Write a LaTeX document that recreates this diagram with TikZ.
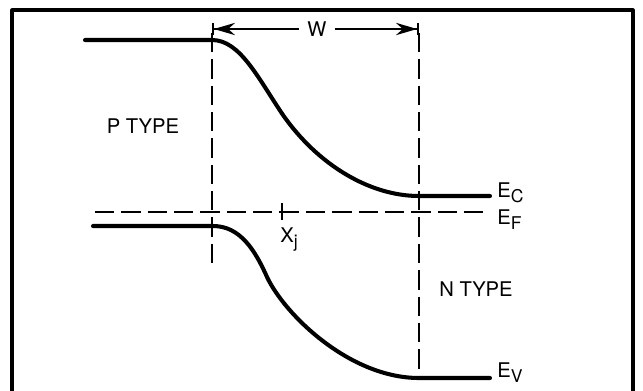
\documentclass[tikz,border=0pt]{standalone}
\usepackage{fontspec}
\setmainfont{TeX Gyre Heros}
\usetikzlibrary{arrows.meta}
\newcommand{\lowsub}[1]{\raisebox{-0.5ex}{\fontsize{10}{12}\selectfont #1}}

\begin{document}
\begin{tikzpicture}[
                >=Stealth,
                x=0.02cm,
                y=-0.02cm,
                band/.style={line width=2.3pt, line cap=round},
                guide/.style={line width=1.1pt, dash pattern=on 11pt off 4pt},
                frame/.style={line width=1.8pt, line join=round},
                dim/.style={line width=1.1pt,
                    {Bar[width=7pt]Stealth[length=12pt,width=7pt]}-{Stealth[length=12pt,width=7pt]Bar[width=7pt]}},
                lbl/.style={font=\fontsize{11.5}{13}\selectfont, inner sep=0pt}
            ]

            \useasboundingbox (0,0) rectangle (643,390);

            % outline
            \draw[frame] (12,392) -- (12,10) -- (633,10) -- (633,392);

            % band edges
            \coordinate (cStart) at (85,40);
            \coordinate (cLeft) at (212,40);
            \coordinate (cMid) at (283,115);
            \coordinate (cRight) at (419,196);
            \coordinate (cEnd) at (490,196);
            \coordinate (vStart) at (93,226);
            \coordinate (vLeft) at (213,226);
            \coordinate (vMid) at (267,277);
            \coordinate (vRight) at (419,378);
            \coordinate (vEnd) at (490,378);

            \draw[band] (cStart) -- (cLeft) .. controls (240,40) and (258,78) .. (cMid)
                .. controls (318,165) and (370,196) .. (cRight) -- (cEnd);
            \draw[band] (vStart) -- (vLeft) .. controls (240,226) and (255,250) .. (vMid)
                .. controls (285,315) and (350,378) .. (vRight) -- (vEnd);

            % fermi level and depletion edges
            \coordinate (fStart) at (95,212);
            \coordinate (fEnd) at (490,212);
            \coordinate (dLtop) at (212,33);
            \coordinate (dLbot) at (212,268);
            \coordinate (dRtop) at (419,33);
            \coordinate (dRbot) at (419,372);
            \draw[guide] (fStart) -- (fEnd);
            \draw[guide] (dLtop) -- (dLbot);
            \draw[guide] (dRtop) -- (dRbot);

            % junction mark
            \coordinate (jTop) at (282,203);
            \coordinate (jBot) at (282,220);
            \draw[line width=1.1pt] (jTop) -- (jBot);

            % width of depletion region
            \coordinate (wLeft) at (212,29);
            \coordinate (wRight) at (419,29);
            \draw[dim] (wLeft) -- (wRight);
            \node[lbl, fill=white, inner xsep=5pt, inner ysep=2pt] (wlabel) at (317,29) {W};

            \node[lbl] (ptype) at (143,126) {P TYPE};
            \node[lbl] (ntype) at (476,289) {N TYPE};
            \node[lbl, anchor=base west] (xj) at (280,242) {X\lowsub{j}};
            \node[lbl, anchor=base west] (ec) at (497,197) {E\lowsub{C}};
            \node[lbl, anchor=base west] (ef) at (497,224) {E\lowsub{F}};
            \node[lbl, anchor=base west] (ev) at (497,377) {E\lowsub{V}};

            \end{tikzpicture}
\end{document}
